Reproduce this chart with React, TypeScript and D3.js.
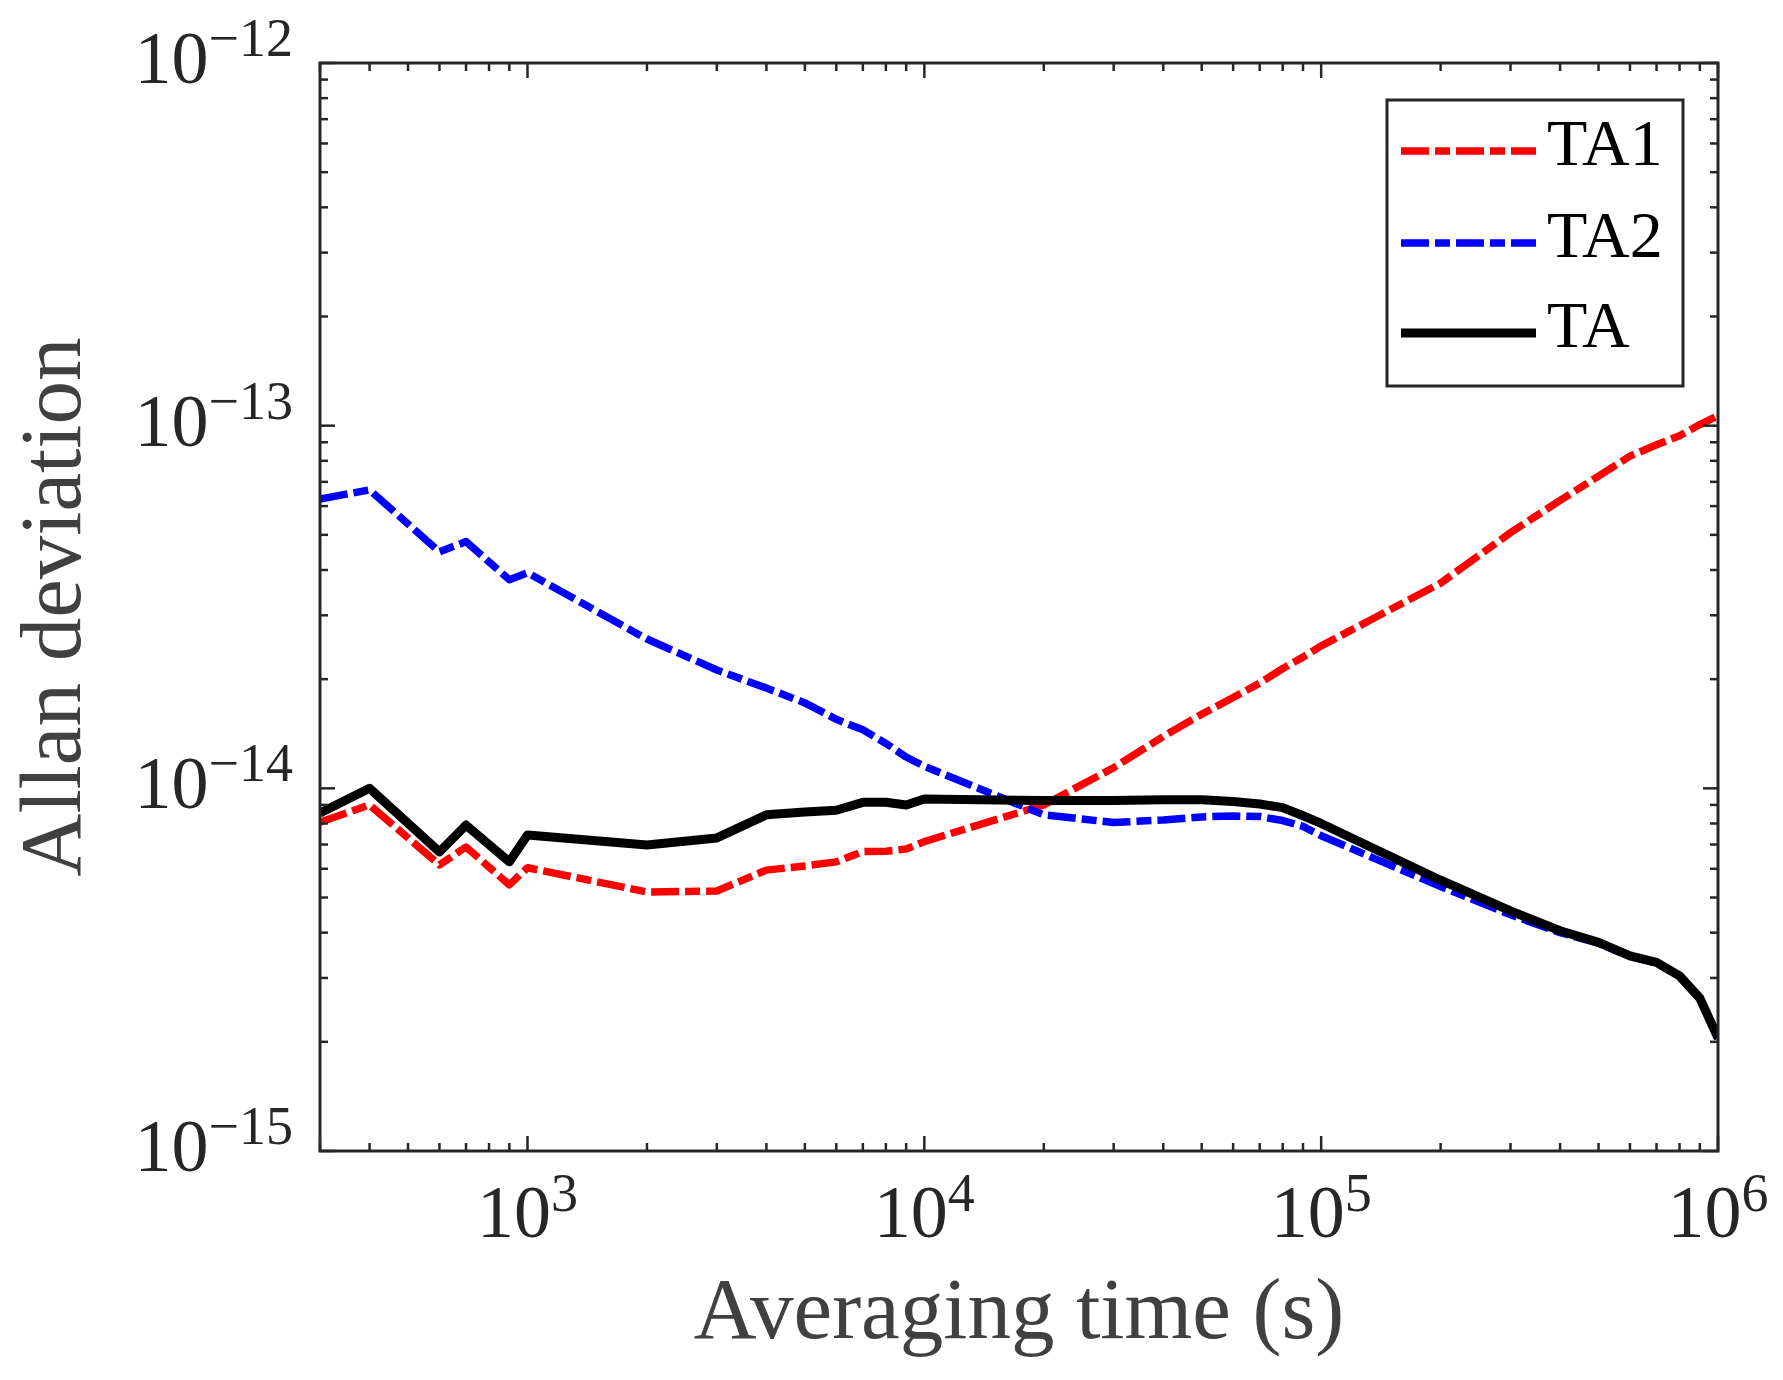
import * as d3 from "d3";

// averaging times (s)
const tau = [
  300, 400, 600, 700, 900, 1e3, 2e3, 3e3, 4e3, 5e3, 6e3, 7e3, 8e3, 9e3,
  1e4, 2e4, 3e4, 4e4, 5e4, 6e4, 7e4, 8e4, 9e4, 1e5, 2e5, 3e5, 4e5, 5e5,
  6e5, 7e5, 8e5, 9e5, 1e6,
];

// TA1
const ta1 = [
  8.07e-15, 9.0e-15, 6.15e-15, 6.89e-15, 5.42e-15, 6.04e-15, 5.18e-15,
  5.21e-15, 5.95e-15, 6.11e-15, 6.27e-15, 6.69e-15, 6.71e-15, 6.8e-15,
  7.13e-15, 9.0e-15, 1.14e-14, 1.39e-14, 1.6e-14, 1.78e-14, 1.95e-14,
  2.14e-14, 2.3e-14, 2.47e-14, 3.68e-14, 5.07e-14, 6.22e-14, 7.26e-14,
  8.24e-14, 8.86e-14, 9.38e-14, 1.007e-13, 1.066e-13,
];

// TA2
const ta2 = [
  6.28e-14, 6.65e-14, 4.49e-14, 4.79e-14, 3.76e-14, 3.93e-14, 2.58e-14,
  2.12e-14, 1.89e-14, 1.72e-14, 1.55e-14, 1.45e-14, 1.33e-14, 1.22e-14,
  1.15e-14, 8.45e-15, 8.05e-15, 8.18e-15, 8.34e-15, 8.39e-15, 8.36e-15,
  8.15e-15, 7.85e-15, 7.4e-15, 5.36e-15, 4.48e-15, 4.0e-15, 3.74e-15,
  3.44e-15, 3.3e-15, 3.03e-15, 2.63e-15, 2.04e-15,
];

// TA
const ta = [
  8.55e-15, 1.0e-14, 6.68e-15, 7.92e-15, 6.27e-15, 7.44e-15, 6.98e-15,
  7.3e-15, 8.45e-15, 8.6e-15, 8.7e-15, 9.15e-15, 9.15e-15, 9.0e-15,
  9.35e-15, 9.25e-15, 9.25e-15, 9.3e-15, 9.3e-15, 9.2e-15, 9.05e-15,
  8.85e-15, 8.4e-15, 8.0e-15, 5.58e-15, 4.59e-15, 4.05e-15, 3.76e-15,
  3.45e-15, 3.31e-15, 3.04e-15, 2.64e-15, 2.05e-15,
];

const seriesNames = ["TA1", "TA2", "TA"];
const xDomain = [300, 1e6];
const yDomain = [1e-15, 1e-12];

const W = 1783;
const H = 1380;
const box = { left: 320, top: 63, right: 1718, bottom: 1151 };
const axisColor = "#262626";
const font = "'Liberation Serif', 'Times New Roman', serif";

const isDecade = (v: number) =>
  Math.abs(Math.log10(v) - Math.round(Math.log10(v))) < 1e-6;
const expText = (v: number) => {
  const e = Math.round(Math.log10(v));
  return e < 0 ? "\u2212" + Math.abs(e) : String(e);
};

export default function App() {
  const x = d3.scaleLog().domain(xDomain).range([box.left, box.right]);
  const y = d3.scaleLog().domain(yDomain).range([box.bottom, box.top]);

  const line = d3
    .line<number>()
    .x((_, i) => x(tau[i]))
    .y((d) => y(d));

  const styles = [
    { color: "#ff0000", width: 7.5, dash: "28 6 15 6" },
    { color: "#0000ff", width: 7.5, dash: "28 6 15 6" },
    { color: "#000000", width: 9, dash: "none" },
  ];
  const data = [ta1, ta2, ta];

  const xTicks = x.ticks();
  const yTicks = y.ticks();

  // legend
  const lg = { left: 1387, top: 100, right: 1683, bottom: 386 };
  const rows = [151, 243, 333];

  return (
    <svg
      width={W}
      height={H}
      style={{ position: "absolute", left: 0, top: 0, background: "#fff" }}
      fontFamily={font}
    >
      <defs>
        <clipPath id="plotArea">
          <rect
            x={box.left}
            y={box.top}
            width={box.right - box.left}
            height={box.bottom - box.top}
          />
        </clipPath>
      </defs>
      <rect width={W} height={H} fill="#fff" />

      {/* 선 그리기 */}
      <g clipPath="url(#plotArea)">
        {data.map((d, i) => (
          <path
            key={seriesNames[i]}
            d={line(d) || ""}
            fill="none"
            stroke={styles[i].color}
            strokeWidth={styles[i].width}
            strokeDasharray={styles[i].dash}
            strokeLinejoin="round"
          />
        ))}
      </g>

      {/* ticks */}
      <g stroke={axisColor} strokeWidth={2.5}>
        {xTicks.map((t) => {
          const len = isDecade(t) ? 15 : 8;
          const px = x(t);
          return (
            <g key={"x" + t}>
              <line x1={px} x2={px} y1={box.bottom} y2={box.bottom - len} />
              <line x1={px} x2={px} y1={box.top} y2={box.top + len} />
            </g>
          );
        })}
        {yTicks.map((t) => {
          const len = isDecade(t) ? 15 : 8;
          const py = y(t);
          return (
            <g key={"y" + t}>
              <line x1={box.left} x2={box.left + len} y1={py} y2={py} />
              <line x1={box.right} x2={box.right - len} y1={py} y2={py} />
            </g>
          );
        })}
      </g>

      <rect
        x={box.left}
        y={box.top}
        width={box.right - box.left}
        height={box.bottom - box.top}
        fill="none"
        stroke={axisColor}
        strokeWidth={3}
      />

      {/* tick labels */}
      <g fill={axisColor}>
        {xTicks.filter(isDecade).map((t) => (
          <text
            key={"xl" + t}
            x={x(t)}
            y={box.bottom + 86}
            textAnchor="middle"
            fontSize={74}
          >
            10
            <tspan dy={-26} fontSize={54}>
              {expText(t)}
            </tspan>
          </text>
        ))}
        {yTicks.filter(isDecade).map((t) => (
          <text
            key={"yl" + t}
            x={293}
            y={y(t) + 20}
            textAnchor="end"
            fontSize={74}
          >
            10
            <tspan dy={-27} fontSize={54}>
              {expText(t)}
            </tspan>
          </text>
        ))}
      </g>

      {/* axis titles */}
      <text
        x={(box.left + box.right) / 2}
        y={1338}
        textAnchor="middle"
        fontSize={87}
        fill="#404040"
      >
        Averaging time (s)
      </text>
      <text
        transform={`translate(80, ${(box.top + box.bottom) / 2}) rotate(-90)`}
        textAnchor="middle"
        fontSize={87}
        fill="#404040"
      >
        Allan deviation
      </text>

      {/* legend */}
      <rect
        x={lg.left}
        y={lg.top}
        width={lg.right - lg.left}
        height={lg.bottom - lg.top}
        fill="#fff"
        stroke={axisColor}
        strokeWidth={3}
      />
      {seriesNames.map((name, i) => (
        <g key={"lg" + name}>
          <line
            x1={1401}
            x2={1536}
            y1={rows[i]}
            y2={rows[i]}
            stroke={styles[i].color}
            strokeWidth={styles[i].width}
            strokeDasharray={styles[i].dash}
          />
          <text x={1547} y={rows[i] + 14} fontSize={66} fill="#000">
            {name}
          </text>
        </g>
      ))}
    </svg>
  );
}
